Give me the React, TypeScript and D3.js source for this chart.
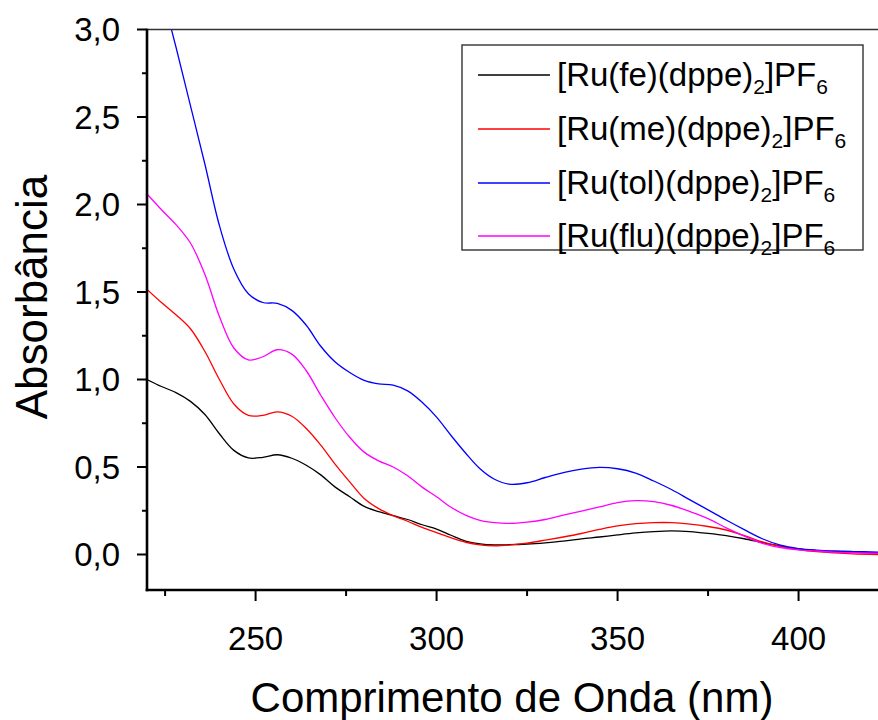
import React from "react";
import * as d3 from "d3";

// Wavelength grid (nm) shared by all spectra
const wavelengths = [
  220, 224, 228, 232, 236, 240, 244, 248, 252, 256, 260, 264, 268, 272, 276, 280,
  284, 288, 292, 296, 300, 304, 308, 312, 316, 320, 325, 330, 335, 340, 345, 350,
  355, 360, 365, 370, 375, 380, 385, 390, 395, 400, 405, 410, 415, 422,
];

const absFe = [
  1.0, 0.96, 0.925, 0.875, 0.8, 0.69, 0.595, 0.552, 0.555, 0.57, 0.55, 0.51, 0.455, 0.385, 0.33, 0.275,
  0.245, 0.222, 0.2, 0.17, 0.145, 0.11, 0.077, 0.061, 0.055, 0.056, 0.06, 0.067, 0.076, 0.089, 0.1, 0.112,
  0.123, 0.131, 0.135, 0.131, 0.121, 0.108, 0.09, 0.068, 0.048, 0.032, 0.022, 0.016, 0.012, 0.01,
];

const absMe = [
  1.515, 1.44, 1.37, 1.29, 1.16, 1.0, 0.86, 0.795, 0.795, 0.815, 0.79, 0.72, 0.625, 0.515, 0.415, 0.32,
  0.262, 0.222, 0.19, 0.155, 0.125, 0.095, 0.07, 0.055, 0.05, 0.054, 0.065, 0.082, 0.1, 0.12, 0.143, 0.163,
  0.176, 0.182, 0.182, 0.174, 0.16, 0.14, 0.108, 0.072, 0.046, 0.028, 0.016, 0.009, 0.004, 0.0,
];

const absTol = [
  3.55, 3.22, 2.9, 2.565, 2.23, 1.88, 1.63, 1.49, 1.44, 1.435, 1.395, 1.31, 1.19, 1.1, 1.04, 0.995,
  0.975, 0.968, 0.935, 0.87, 0.785, 0.68, 0.58, 0.49, 0.43, 0.402, 0.41, 0.44, 0.468, 0.488, 0.498, 0.49,
  0.465, 0.42, 0.37, 0.312, 0.255, 0.197, 0.142, 0.09, 0.053, 0.034, 0.025, 0.02, 0.017, 0.014,
];

const absFlu = [
  2.06, 1.97, 1.885, 1.78, 1.6, 1.36, 1.18, 1.112, 1.13, 1.17, 1.145, 1.05, 0.91, 0.78, 0.67, 0.585,
  0.535, 0.5, 0.45, 0.385, 0.33, 0.27, 0.225, 0.195, 0.182, 0.178, 0.185, 0.2, 0.225, 0.248, 0.272, 0.297,
  0.308, 0.302, 0.28, 0.245, 0.205, 0.152, 0.105, 0.064, 0.04, 0.027, 0.02, 0.014, 0.01, 0.007,
];

const seriesNames = ["fe", "me", "tol", "flu"];
const seriesColors = ["#000000", "#ff0000", "#0000ff", "#ff00ff"];
const seriesValues = [absFe, absMe, absTol, absFlu];

const xMajorTicks = [250, 300, 350, 400];
const xMinorTicks = [225, 275, 325, 375];
const yMajorTicks = [0, 0.5, 1.0, 1.5, 2.0, 2.5, 3.0];
const yMinorTicks = [0.25, 0.75, 1.25, 1.75, 2.25, 2.75];

const W = 878;
const H = 720;
const left = 147;
const right = 878.2;
const top = 29.5;
const bottom = 590;

const fmt = (v: number) => v.toFixed(1).replace(".", ",");

export default function App() {
  const x = d3.scaleLinear().domain([220, 422]).range([left, right]);
  const y = d3.scaleLinear().domain([-0.2, 3.0]).range([bottom - 0.5, top]);

  const line = d3
    .line<number>()
    .x((_, i) => x(wavelengths[i]))
    .y((d) => y(d))
    .curve(d3.curveCatmullRom.alpha(0.5));

  const font = "Liberation Sans, Arial, sans-serif";
  const legendRowY = [75, 129, 183, 236];

  return (
    <svg
      width={W}
      height={H}
      style={{ position: "absolute", left: 0, top: 0, background: "#fff" }}
      fontFamily={font}
    >
      <defs>
        <clipPath id="plotArea">
          <rect x={left} y={top} width={right - left} height={bottom - top} />
        </clipPath>
      </defs>

      {/* spectra */}
      <g clipPath="url(#plotArea)" fill="none">
        {seriesValues.map((vals, i) => (
          <path
            key={seriesNames[i]}
            d={line(vals) || ""}
            stroke={seriesColors[i]}
            strokeWidth={1.3}
          />
        ))}
      </g>

      {/* frame lines */}
      <line x1={left} x2={W} y1={top} y2={top} stroke="#333" strokeWidth={1.6} />
      <line x1={left} x2={left} y1={top - 0.8} y2={bottom + 1.2} stroke="#000" strokeWidth={2.6} />
      <line x1={left - 1.3} x2={W} y1={bottom} y2={bottom} stroke="#000" strokeWidth={2.6} />

      {/* y ticks */}
      {yMajorTicks.map((t) => (
        <g key={"ym" + t}>
          <line x1={left - 10} x2={left} y1={y(t)} y2={y(t)} stroke="#000" strokeWidth={2} />
          <text x={120} y={y(t) + 11.5} textAnchor="end" fontSize={33}>
            {fmt(t)}
          </text>
        </g>
      ))}
      {yMinorTicks.map((t) => (
        <line key={"yn" + t} x1={left - 5} x2={left} y1={y(t)} y2={y(t)} stroke="#000" strokeWidth={2} />
      ))}

      {/* x ticks */}
      {xMajorTicks.map((t) => (
        <g key={"xm" + t}>
          <line x1={x(t)} x2={x(t)} y1={bottom} y2={bottom + 11} stroke="#000" strokeWidth={2} />
          <text x={x(t)} y={650} textAnchor="middle" fontSize={33}>
            {t}
          </text>
        </g>
      ))}
      {xMinorTicks.map((t) => (
        <line key={"xn" + t} x1={x(t)} x2={x(t)} y1={bottom} y2={bottom + 6} stroke="#000" strokeWidth={2} />
      ))}

      {/* axis titles */}
      <text x={512} y={712} textAnchor="middle" fontSize={42}>
        Comprimento de Onda (nm)
      </text>
      <text transform="translate(47,297) rotate(-90)" textAnchor="middle" fontSize={44}>
        Absorbância
      </text>

      {/* legend */}
      <rect x={462} y={45} width={401} height={205} fill="#fff" stroke="#333" strokeWidth={1.4} />
      {seriesNames.map((n, i) => (
        <g key={"lg" + n}>
          <line x1={478} x2={550} y1={legendRowY[i]} y2={legendRowY[i]} stroke={seriesColors[i]} strokeWidth={1.3} />
          <text x={557} y={legendRowY[i] + 11} fontSize={33}>
            {`[Ru(${n})(dppe)`}
            <tspan fontSize={21} dy={8}>2</tspan>
            <tspan dy={-8}>]PF</tspan>
            <tspan fontSize={21} dy={8}>6</tspan>
          </text>
        </g>
      ))}
    </svg>
  );
}
